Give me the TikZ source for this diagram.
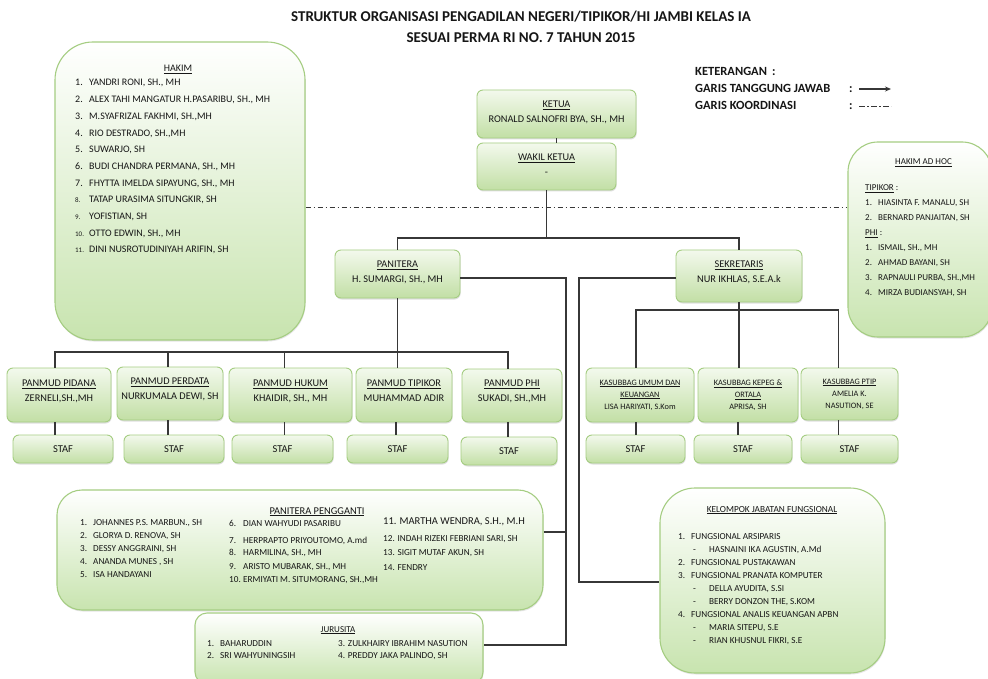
\documentclass[tikz,border=0pt]{standalone}
\usepackage{fontspec}
\setmainfont{Carlito}
\usetikzlibrary{shadows,arrows.meta}
\definecolor{txt}{RGB}{22,22,22}
\definecolor{bord}{RGB}{165,205,130}
\definecolor{gtop}{RGB}{243,249,237}
\definecolor{gbot}{RGB}{194,223,165}
\definecolor{bbot}{RGB}{200,228,175}
\definecolor{conn}{RGB}{55,55,55}
\newcommand\fs[2]{\fontsize{#1}{#2}\selectfont}
\newcommand\lift[1]{\rule[-#1]{0pt}{#1}}
\newcommand\nm[2]{\makebox[#1][l]{#2}}
\tikzset{
  conline/.style={draw=conn, line width=1.2pt},
  koord/.style={draw=conn, line width=0.9pt, dash pattern=on 5.5pt off 2.5pt on 1.5pt off 2.5pt},
  sbox/.style={draw=bord, line width=0.9pt, rounded corners=6pt, top color=gtop, bottom color=gbot,
    drop shadow={shadow xshift=0.6pt, shadow yshift=-1.5pt, opacity=0.25},
    align=center, text=txt, inner sep=1pt, font=\fs{10.3}{15}},
  kbox/.style={sbox, font=\fs{8.3}{12}},
  stafbox/.style={sbox, font=\fs{10.5}{12}, minimum height=28pt},
  bbox/.style={draw=bord, line width=1.1pt, top color=white, bottom color=bbot,
    drop shadow={shadow xshift=0.6pt, shadow yshift=-1.5pt, opacity=0.2}, inner sep=0pt},
  lbl/.style={text=txt, inner sep=0pt},
}
\begin{document}
\begin{tikzpicture}[x=1pt,y=-1pt]
\fill[white] (0,0) rectangle (988,679);
\useasboundingbox (0,0) rectangle (988,679);

% title
\node[lbl, anchor=base, font=\bfseries\fs{15}{18}] (title1) at (521,21.8) {STRUKTUR ORGANISASI PENGADILAN NEGERI/TIPIKOR/HI JAMBI KELAS IA};
\node[lbl, anchor=base, font=\bfseries\fs{15}{18}] (title2) at (521,42.8) {SESUAI PERMA RI NO. 7 TAHUN 2015};

% legend
\node[lbl, anchor=base west, font=\bfseries\fs{12.5}{15}] (ket) at (695,75.5) {KETERANGAN\hspace{5pt}:};
\node[lbl, anchor=base west, font=\bfseries\fs{12.5}{15}] (gtj) at (695,93) {GARIS TANGGUNG JAWAB};
\node[lbl, anchor=base west, font=\bfseries\fs{12.5}{15}] (gk) at (695,110) {GARIS KOORDINASI};
\node[lbl, anchor=base west, font=\bfseries\fs{12.5}{15}] (c1) at (849,93) {:};
\node[lbl, anchor=base west, font=\bfseries\fs{12.5}{15}] (c2) at (849,110) {:};
\coordinate (la1) at (859,89); \coordinate (la2) at (891,89);
\coordinate (lb1) at (859,106); \coordinate (lb2) at (891,106);
\draw[conline, -{Stealth[length=6pt,width=5pt]}] (la1) -- (la2);
\draw[koord] (lb1) -- (lb2);

% big boxes
\node[bbox, rounded corners=38pt, minimum width=250pt, minimum height=298pt] (hakim) at (180,191) {};
\node[lbl, anchor=base, font=\fs{10}{12}] (hakimtitle) at (178,71.5) {\underline{HAKIM}};
\node[lbl, anchor=base west, font=\fs{10}{16.67}] (hakimlist) at (75,86) {\begin{tabular}[t]{@{}l@{}}
\nm{14pt}{1.}YANDRI RONI, SH., MH\\
\nm{14pt}{2.}ALEX TAHI MANGATUR H.PASARIBU, SH., MH\\
\nm{14pt}{3.}M.SYAFRIZAL FAKHMI, SH.,MH\\
\nm{14pt}{4.}RIO DESTRADO, SH.,MH\\
\nm{14pt}{5.}SUWARJO, SH\\
\nm{14pt}{6.}BUDI CHANDRA PERMANA, SH., MH\\
\nm{14pt}{7.}FHYTTA IMELDA SIPAYUNG, SH., MH\\
\nm{14pt}{\fs{7}{8}8.}TATAP URASIMA SITUNGKIR, SH\\
\nm{14pt}{\fs{7}{8}9.}YOFISTIAN, SH\\
\nm{14pt}{\fs{7}{8}10.}OTTO EDWIN, SH., MH\\
\nm{14pt}{\fs{7}{8}11.}DINI NUSROTUDINIYAH ARIFIN, SH
\end{tabular}};

\node[bbox, rounded corners=30pt, minimum width=144pt, minimum height=195pt] (adhoc) at (920,239.5) {};
\node[lbl, anchor=base, font=\fs{9}{12}] (adhoctitle) at (923.5,165) {\underline{HAKIM AD HOC}};
\node[lbl, anchor=base west, font=\fs{9}{15}] (adhoclist) at (865,191) {\begin{tabular}[t]{@{}l@{}}
\underline{TIPIKOR} :\\
\nm{13pt}{1.}HIASINTA F. MANALU, SH\\
\nm{13pt}{2.}BERNARD PANJAITAN, SH\\
\underline{PHI} :\\
\nm{13pt}{1.}ISMAIL, SH., MH\\
\nm{13pt}{2.}AHMAD BAYANI, SH\\
\nm{13pt}{3.}RAPNAULI PURBA, SH.,MH\\
\nm{13pt}{4.}MIRZA BUDIANSYAH, SH
\end{tabular}};

% top boxes
\node[sbox, minimum width=159pt, minimum height=48pt] (ketua) at (556.5,114) {\underline{KETUA}\\RONALD SALNOFRI BYA, SH., MH\lift{5pt}};
\node[sbox, minimum width=139pt, minimum height=47pt] (wakil) at (546.5,166.5) {\underline{WAKIL KETUA}\\-\lift{4pt}};
\node[sbox, minimum width=125pt, minimum height=48pt] (panitera) at (397.5,274) {\underline{PANITERA}\\H. SUMARGI, SH., MH\lift{5pt}};
\node[sbox, minimum width=126pt, minimum height=52pt] (sekretaris) at (739,276) {\underline{SEKRETARIS}\\NUR IKHLAS, S.E.A.k\lift{9pt}};

% panmud row
\node[sbox, minimum width=104pt, minimum height=54pt] (pidana) at (59,395) {\underline{PANMUD PIDANA}\\ZERNELI,SH.,MH\lift{9pt}};
\node[sbox, minimum width=106pt, minimum height=53pt] (perdata) at (170,393.5) {\underline{PANMUD PERDATA}\\NURKUMALA DEWI, SH\lift{9pt}};
\node[sbox, minimum width=123pt, minimum height=54pt] (hukum) at (290.5,395) {\underline{PANMUD HUKUM}\\KHAIDIR, SH., MH\lift{9pt}};
\node[sbox, minimum width=96pt, minimum height=54pt] (tipikor) at (404,395) {\underline{PANMUD TIPIKOR}\\MUHAMMAD ADIR\lift{9pt}};
\node[sbox, minimum width=100pt, minimum height=53pt] (phi) at (512,395.5) {\underline{PANMUD PHI}\\SUKADI, SH.,MH\lift{9pt}};

\node[stafbox, minimum width=100pt] (staf1) at (63,449) {STAF};
\node[stafbox, minimum width=100pt] (staf2) at (174,449) {STAF};
\node[stafbox, minimum width=101pt] (staf3) at (282.5,449) {STAF};
\node[stafbox, minimum width=101pt] (staf4) at (397.5,449) {STAF};
\node[stafbox, minimum width=96pt] (staf5) at (509,451) {STAF};

% kasubbag row
\node[kbox, minimum width=108pt, minimum height=54pt] (umum) at (640,395) {\underline{KASUBBAG UMUM DAN}\\\underline{KEUANGAN}\\LISA HARIYATI, S.Kom};
\node[kbox, minimum width=100pt, minimum height=54pt] (kepeg) at (748,395) {\underline{KASUBBAG KEPEG \&}\\\underline{ORTALA}\\APRISA, SH};
\node[kbox, minimum width=97pt, minimum height=52pt] (ptip) at (849.5,394) {\underline{KASUBBAG PTIP}\\AMELIA K.\\NASUTION, SE};

\node[stafbox, minimum width=99pt] (staf6) at (635.5,449) {STAF};
\node[stafbox, minimum width=98pt] (staf7) at (743,449) {STAF};
\node[stafbox, minimum width=97pt] (staf8) at (849.5,449) {STAF};

% panitera pengganti
\node[bbox, rounded corners=25pt, minimum width=486pt, minimum height=120pt] (pp) at (300,550) {};
\node[lbl, anchor=base, font=\fs{10.4}{12}] (pptitle) at (317,514) {\underline{PANITERA PENGGANTI}};
\node[lbl, anchor=base west, font=\fs{9.2}{13}] (ppcol1) at (80,525) {\begin{tabular}[t]{@{}l@{}}
\nm{13pt}{1.}JOHANNES P.S. MARBUN., SH\\
\nm{13pt}{2.}GLORYA D. RENOVA, SH\\
\nm{13pt}{3.}DESSY ANGGRAINI, SH\\
\nm{13pt}{4.}ANANDA MUNES , SH\\
\nm{13pt}{5.}ISA HANDAYANI
\end{tabular}};
\node[lbl, anchor=base west, font=\fs{9.2}{13}] (ppcol2) at (229,526) {\begin{tabular}[t]{@{}l@{}}
\nm{14pt}{6.}DIAN WAHYUDI PASARIBU\\[4pt]
\nm{14pt}{7.}HERPRAPTO PRIYOUTOMO, A.md\\[-1pt]
\nm{14pt}{8.}HARMILINA, SH., MH\\[1pt]
\nm{14pt}{9.}ARISTO MUBARAK, SH., MH\\
\nm{14pt}{10.}ERMIYATI M. SITUMORANG, SH.,MH
\end{tabular}};
\node[lbl, anchor=base west, font=\fs{9.2}{14}] (ppcol3) at (383,524.5) {\begin{tabular}[t]{@{}l@{}}
{\fs{10.5}{12}11. MARTHA WENDRA, S.H., M.H}\\[3pt]
12. INDAH RIZEKI FEBRIANI SARI, SH\\
13. SIGIT MUTAF AKUN, SH\\[1pt]
14. FENDRY
\end{tabular}};

% jurusita
\node[bbox, rounded corners=12pt, minimum width=288pt, minimum height=71pt] (jurusita) at (339,648.5) {};
\node[lbl, anchor=base, font=\fs{9}{12}] (jurtitle) at (338,632) {\underline{JURUSITA}};
\node[lbl, anchor=base west, font=\fs{9.2}{12.5}] (jurcol1) at (207,646) {\begin{tabular}[t]{@{}l@{}}
\nm{13pt}{1.}BAHARUDDIN\\
\nm{13pt}{2.}SRI WAHYUNINGSIH
\end{tabular}};
\node[lbl, anchor=base west, font=\fs{9.2}{12.5}] (jurcol2) at (338,646) {\begin{tabular}[t]{@{}l@{}}
3. ZULKHAIRY IBRAHIM NASUTION\\
4. PREDDY JAKA PALINDO, SH
\end{tabular}};

% fungsional
\node[bbox, rounded corners=35pt, minimum width=225pt, minimum height=185pt] (fung) at (772.5,580.5) {};
\node[lbl, anchor=base, font=\fs{9.3}{12}] (fungtitle) at (772,512) {\underline{KELOMPOK JABATAN FUNGSIONAL}};
\node[lbl, anchor=base west, font=\fs{9.2}{13}] (funglist) at (678,539) {\begin{tabular}[t]{@{}l@{}}
\nm{13pt}{1.}FUNGSIONAL ARSIPARIS\\
\hspace{15pt}\nm{16pt}{-}HASNAINI IKA AGUSTIN, A.Md\\
\nm{13pt}{2.}FUNGSIONAL PUSTAKAWAN\\
\nm{13pt}{3.}FUNGSIONAL PRANATA KOMPUTER\\
\hspace{15pt}\nm{16pt}{-}DELLA AYUDITA, S.SI\\
\hspace{15pt}\nm{16pt}{-}BERRY DONZON THE, S.KOM\\
\nm{13pt}{4.}FUNGSIONAL ANALIS KEUANGAN APBN\\
\hspace{15pt}\nm{16pt}{-}MARIA SITEPU, S.E\\
\hspace{15pt}\nm{16pt}{-}RIAN KHUSNUL FIKRI, S.E
\end{tabular}};

% coordination line
\coordinate (kd) at (600,207);
\draw[koord] (hakim.east |- kd) -- (adhoc.west |- kd);

% connectors
\draw[conline] (ketua.south) -- (wakil.north -| ketua.south);
\coordinate (tb) at (546.5,238);
\draw[conline] (wakil.south) -- (tb);
\draw[conline] (panitera.north) |- (tb) -| (sekretaris.north);

\coordinate (pb) at (397.5,352);
\draw[conline] (panitera.south) -- (panitera.south |- tipikor.north);
\draw[conline] ([xshift=-4pt]pidana.north) |- (pb) -| ([xshift=-4pt]phi.north);
\draw[conline] ([xshift=-2pt]perdata.north) -- ([xshift=-2pt]perdata.north |- pb);
\draw[conline] ([xshift=-6pt]hukum.north) -- ([xshift=-6pt]hukum.north |- pb);

\draw[conline] ([xshift=-4pt]pidana.south) -- ([xshift=-4pt]pidana.south |- staf1.north);
\draw[conline] ([xshift=-2pt]perdata.south) -- ([xshift=-2pt]perdata.south |- staf2.north);
\draw[conline] ([xshift=-6pt]hukum.south) -- ([xshift=-6pt]hukum.south |- staf3.north);
\draw[conline] ([xshift=-8pt]tipikor.south) -- ([xshift=-8pt]tipikor.south |- staf4.north);
\draw[conline] ([xshift=-4pt]phi.south) -- ([xshift=-4pt]phi.south |- staf5.north);

\coordinate (sb) at (739,310);
\draw[conline] (sekretaris.south) -- (sekretaris.south |- kepeg.north);
\draw[conline] ([xshift=-4pt]umum.north) |- (sb) -| ([xshift=-11pt]ptip.north);
\draw[conline] ([xshift=-4pt]umum.south) -- ([xshift=-4pt]umum.south |- staf6.north);
\draw[conline] ([xshift=-10pt]kepeg.south) -- ([xshift=-10pt]kepeg.south |- staf7.north);
\draw[conline] ([xshift=-11pt]ptip.south) -- ([xshift=-11pt]ptip.south |- staf8.north);

\coordinate (pr) at (566,278);
\coordinate (ppj) at (566,532);
\coordinate (jr) at (566,645);
\draw[conline] (panitera.east |- pr) -- (pr) -- (jr) -- (jurusita.east |- jr);
\draw[conline] (pp.east |- ppj) -- (ppj);

\coordinate (sk) at (579,278);
\coordinate (fk) at (579,582);
\draw[conline] (sekretaris.west |- sk) -- (sk) -- (fk) -- (fung.west |- fk);
\end{tikzpicture}
\end{document}
